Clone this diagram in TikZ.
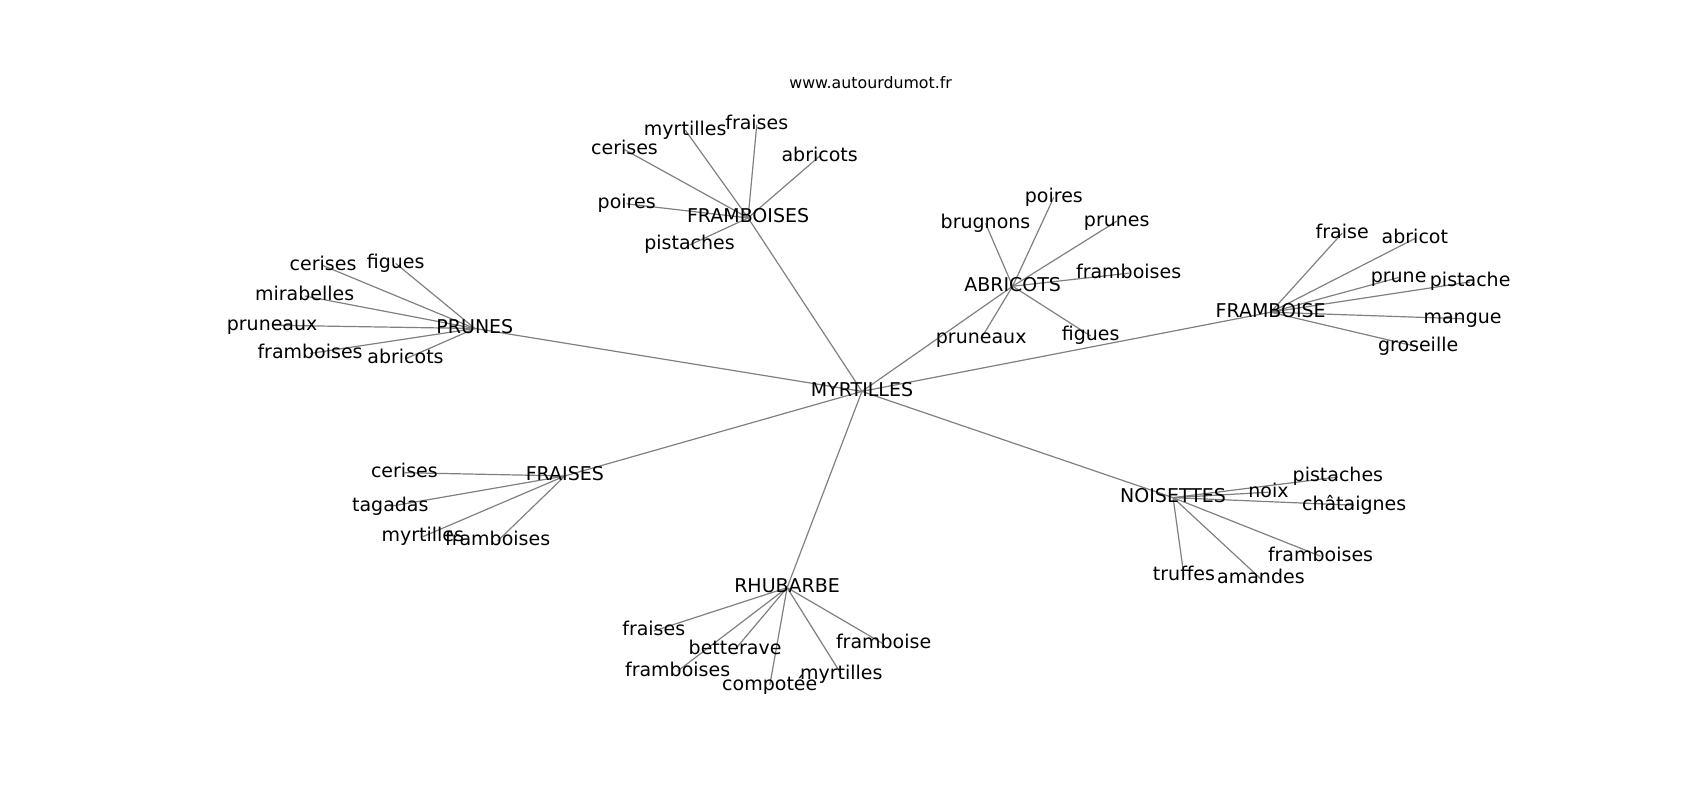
\documentclass[tikz,border=0pt]{standalone}
\usepackage{fontspec}
\setmainfont{DejaVu Sans}
\usetikzlibrary{backgrounds}

\begin{document}
\begin{tikzpicture}[x=1.0842pt, y=-1.0842pt]
\tikzstyle{every node}+=[inner sep=0pt, text height=14.4pt, text depth=4.6pt, font=\fontsize{19}{22}\selectfont]
\tikzstyle{lien}=[draw=black!50, line width=1.2pt]
\useasboundingbox (0,-2) rectangle (1568,735.9);
\node (titre) at (803,76) [font=\fontsize{15.8}{18}\selectfont, text height=12pt, text depth=3.8pt] {www.autourdumot.fr};
% centre
\node (myr) at (795,359) {MYRTILLES};
% FRAMBOISES
\node (fbs) at (690,199) {FRAMBOISES};
\node (fbs-myr) at (632,118) {myrtilles};
\node (fbs-fra) at (698,113) {fraises};
\node (fbs-cer) at (576,136) {cerises};
\node (fbs-abr) at (756,142) {abricots};
\node (fbs-poi) at (578,186) {poires};
\node (fbs-pis) at (636,224) {pistaches};
% PRUNES
\node (pru) at (438,301) {PRUNES};
\node (pru-cer) at (298,243) {cerises};
\node (pru-fig) at (365,241) {figues};
\node (pru-mir) at (281,271) {mirabelles};
\node (pru-prx) at (251,298) {pruneaux};
\node (pru-fbs) at (286,324) {framboises};
\node (pru-abr) at (374,329) {abricots};
% ABRICOTS
\node (abr) at (934,262) {ABRICOTS};
\node (abr-poi) at (972,180) {poires};
\node (abr-bru) at (909,204) {brugnons};
\node (abr-pru) at (1030,202) {prunes};
\node (abr-fbs) at (1041,250) {framboises};
\node (abr-prx) at (905,310) {pruneaux};
\node (abr-fig) at (1006,308) {figues};
% FRAMBOISE
\node (fbe) at (1172,286) {FRAMBOISE};
\node (fbe-fra) at (1238,213) {fraise};
\node (fbe-abr) at (1305,218) {abricot};
\node (fbe-pru) at (1290,254) {prune};
\node (fbe-pis) at (1356,258) {pistache};
\node (fbe-man) at (1349,292) {mangue};
\node (fbe-gro) at (1308,318) {groseille};
% FRAISES
\node (fra) at (521,437) {FRAISES};
\node (fra-cer) at (373,434) {cerises};
\node (fra-tag) at (360,465) {tagadas};
\node (fra-myr) at (390,493) {myrtilles};
\node (fra-fbs) at (459,497) {framboises};
% RHUBARBE
\node (rhu) at (726,540) {RHUBARBE};
\node (rhu-fra) at (603,580) {fraises};
\node (rhu-bet) at (678,597) {betterave};
\node (rhu-fbs) at (625,617) {framboises};
\node (rhu-com) at (710,630) {compotée};
\node (rhu-myr) at (776,620) {myrtilles};
\node (rhu-fbe) at (815,592) {framboise};
% NOISETTES
\node (noi) at (1082,457) {NOISETTES};
\node (noi-pis) at (1234,438) {pistaches};
\node (noi-nox) at (1170,452) {noix};
\node (noi-cht) at (1249,464) {châtaignes};
\node (noi-fbs) at (1218,511) {framboises};
\node (noi-tru) at (1092,529) {truffes};
\node (noi-ama) at (1163,532) {amandes};

\begin{scope}[on background layer]
\foreach \h in {fbs, pru, abr, fbe, fra, rhu, noi}
  \draw [lien] (myr.center) -- (\h.center);
\foreach \f in {myr, fra, cer, abr, poi, pis}
  \draw [lien] (fbs.center) -- (fbs-\f.center);
\foreach \f in {cer, fig, mir, prx, fbs, abr}
  \draw [lien] (pru.center) -- (pru-\f.center);
\foreach \f in {poi, bru, pru, fbs, prx, fig}
  \draw [lien] (abr.center) -- (abr-\f.center);
\foreach \f in {fra, abr, pru, pis, man, gro}
  \draw [lien] (fbe.center) -- (fbe-\f.center);
\foreach \f in {cer, tag, myr, fbs}
  \draw [lien] (fra.center) -- (fra-\f.center);
\foreach \f in {fra, bet, fbs, com, myr, fbe}
  \draw [lien] (rhu.center) -- (rhu-\f.center);
\foreach \f in {pis, nox, cht, fbs, tru, ama}
  \draw [lien] (noi.center) -- (noi-\f.center);
\end{scope}
\end{tikzpicture}
\end{document}
